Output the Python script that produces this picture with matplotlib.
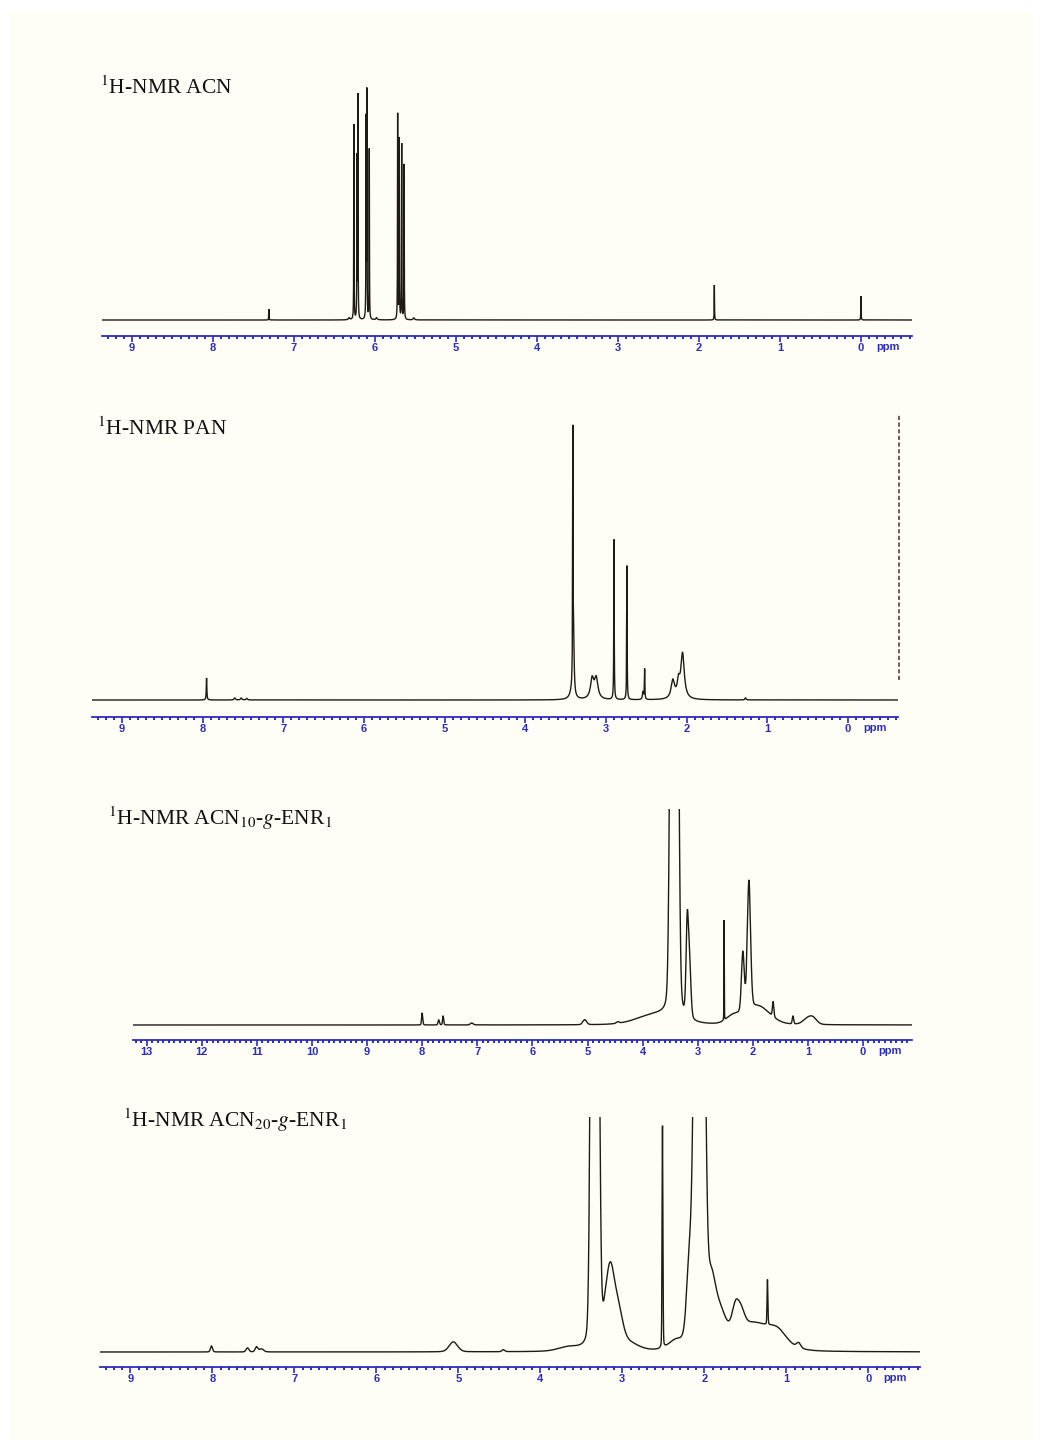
import numpy as np
import matplotlib
matplotlib.use("Agg")
import matplotlib.pyplot as plt
from matplotlib.patches import Rectangle
from matplotlib.ticker import MultipleLocator
import matplotlib.transforms as mtransforms

plt.rcParams['mathtext.fontset'] = 'stix'

# ---------------- data (peak tables) ----------------
# 1H-NMR ACN  (ppm, relative intensity, half width)
acn_centers = [7.31, 6.26, 6.222, 6.21, 6.11, 6.10, 6.07, 5.72, 5.70, 5.67, 5.64, 6.32, 5.98, 5.52, 1.81, 0.00]
acn_heights = [11, 195, 160, 222, 197, 224, 170, 205, 180, 175, 155, 2, 2, 2, 35, 24]
acn_widths = [0.002, 0.002, 0.002, 0.002, 0.002, 0.002, 0.002, 0.002, 0.002, 0.002, 0.002, 0.01, 0.01, 0.01, 0.002, 0.002]

# 1H-NMR PAN
pan_centers = [7.95, 7.60, 7.52, 7.45, 3.41, 3.40, 3.42, 3.17, 3.12, 2.90, 2.74, 2.54, 2.52, 2.17, 2.10, 2.05, 1.27]
pan_heights = [22, 2, 2, 1.5, 250, 45, 8, 20, 20, 160, 134, 8, 30, 18, 15, 45, 2]
pan_widths = [0.004, 0.01, 0.01, 0.01, 0.003, 0.008, 0.03, 0.025, 0.025, 0.003, 0.003, 0.008, 0.003, 0.025, 0.02, 0.025, 0.008]
pan_integral_ppm = -0.63
pan_integral_range = [20, 285]

# 1H-NMR ACN10-g-ENR1
g10_centers = [8.00, 7.70, 7.62, 7.10, 5.05, 4.45, 3.75, 3.48, 3.42, 3.37, 3.19, 3.15, 2.52, 2.35, 2.18, 2.07, 1.90, 1.63, 1.27, 1.00, 0.90]
g10_heights = [12, 5, 9, 2, 5, 1.5, 10, 400, 400, 400, 88, 55, 100, 8, 60, 130, 18, 15, 8, 6, 5]
g10_widths = [0.012, 0.015, 0.012, 0.03, 0.04, 0.03, 0.4, 0.035, 0.035, 0.035, 0.025, 0.03, 0.004, 0.15, 0.03, 0.035, 0.25, 0.015, 0.015, 0.1, 0.08]

# 1H-NMR ACN20-g-ENR1
g20_centers = [8.01, 7.57, 7.46, 7.40, 5.06, 4.45, 3.65, 3.37, 3.30, 3.15, 3.04, 2.95, 2.51, 2.35, 2.18, 2.10, 2.02, 1.92, 1.80, 1.62, 1.55, 1.40, 1.23, 1.10, 0.85]
g20_heights = [6, 4, 5, 3, 10, 2, 4, 500, 500, 80, 25, 8, 222, 8, 80, 500, 500, 60, 25, 25, 15, 28, 45, 10, 5]
g20_widths = [0.015, 0.02, 0.02, 0.03, 0.06, 0.02, 0.15, 0.025, 0.025, 0.07, 0.06, 0.15, 0.006, 0.1, 0.04, 0.035, 0.035, 0.07, 0.08, 0.05, 0.05, 0.3, 0.006, 0.12, 0.03]

titles = [r'$^{1}$H-NMR ACN',
          r'$^{1}$H-NMR PAN',
          r'$^{1}$H-NMR ACN$_{10}$-$g$-ENR$_{1}$',
          r'$^{1}$H-NMR ACN$_{20}$-$g$-ENR$_{1}$']
ticks_9 = list(range(9, -1, -1))
ticks_13 = list(range(13, -1, -1))

# ---------------- helpers ----------------
def pseudo_voigt(x, centers, heights, widths, eta):
    y = np.zeros_like(x)
    for c, h, w in zip(centers, heights, widths):
        d = (x - c) / w
        y += h * (eta / (1.0 + d ** 2) + (1.0 - eta) * np.exp(-np.log(2) * d ** 2))
    return y

W, H = 1043, 1450
BLUE = '#2b2bc4'
LINE = '#1f1b14'

fig = plt.figure(figsize=(W / 100, H / 100), dpi=100, facecolor='white')
fig.patches.append(Rectangle((10 / W, 10 / H), 1023 / W, 1429 / H, transform=fig.transFigure,
                             facecolor='#fefdf6', edgecolor='none', zorder=-10))

def make_axes(left, right, top, bottom):
    return fig.add_axes([left / W, 1 - bottom / H, (right - left) / W, (bottom - top) / H])

def style(ax, xlim, ylim, ticks):
    ax.set_xlim(*xlim)
    ax.set_ylim(*ylim)
    ax.set_facecolor('none')
    for s in ['top', 'right', 'left']:
        ax.spines[s].set_visible(False)
    ax.spines['bottom'].set_color(BLUE)
    ax.spines['bottom'].set_linewidth(1.3)
    ax.set_yticks([])
    ax.set_xticks(ticks, labels=[str(t) for t in ticks], fontweight='bold', fontfamily='Liberation Sans')
    ax.xaxis.set_minor_locator(MultipleLocator(0.1))
    ax.tick_params(axis='x', which='major', direction='out', length=4, width=1.2,
                   color=BLUE, labelcolor=BLUE, labelsize=8, pad=1.2)
    ax.tick_params(axis='x', which='minor', direction='out', length=2, width=1.4, color=BLUE)
    tr = mtransforms.blended_transform_factory(ax.transData, ax.transAxes)
    ax.annotate('ppm', xy=(0, 0), xycoords=tr, xytext=(11, -4.0), textcoords='offset points',
                ha='left', va='top', fontsize=8, fontweight='bold', color=BLUE,
                fontfamily='Liberation Sans', annotation_clip=False)

x = np.arange(-1.0, 13.5, 0.0005)

panels = [
    dict(box=(102, 912, 80, 336), xlim=(9.37, -0.63), ylim=(-16, 240), ticks=ticks_9,
         data=(acn_centers, acn_heights, acn_widths), eta=1.0, title_xy=(100, 94)),
    dict(box=(92, 898, 410, 717), xlim=(9.37, -0.62), ylim=(-17, 290), ticks=ticks_9,
         data=(pan_centers, pan_heights, pan_widths), eta=1.0, title_xy=(97, 435)),
    dict(box=(133, 912, 809, 1040), xlim=(13.25, -0.89), ylim=(-15, 216), ticks=ticks_13,
         data=(g10_centers, g10_heights, g10_widths), eta=0.2, title_xy=(108, 825)),
    dict(box=(100, 920, 1117, 1367), xlim=(9.37, -0.63), ylim=(-15, 235), ticks=ticks_9,
         data=(g20_centers, g20_heights, g20_widths), eta=0.2, title_xy=(123, 1127)),
]

for i, p in enumerate(panels):
    ax = make_axes(*p['box'])
    style(ax, p['xlim'], p['ylim'], p['ticks'])
    c, h, w = p['data']
    y = pseudo_voigt(x, c, h, w, p['eta'])
    ax.plot(x, y, color=LINE, lw=1.0, solid_joinstyle='miter')
    if i == 1:
        ax.plot([pan_integral_ppm, pan_integral_ppm], pan_integral_range, color='#6b3b3b',
                lw=1.2, ls=(0, (2.5, 1.5)), clip_on=False)
    fig.text(p['title_xy'][0] / W, 1 - p['title_xy'][1] / H, titles[i], fontsize=15.5,
             fontfamily='Liberation Serif', color='#111111', va='baseline', ha='left')

fig.savefig('out.png', dpi=100, facecolor=fig.get_facecolor())
